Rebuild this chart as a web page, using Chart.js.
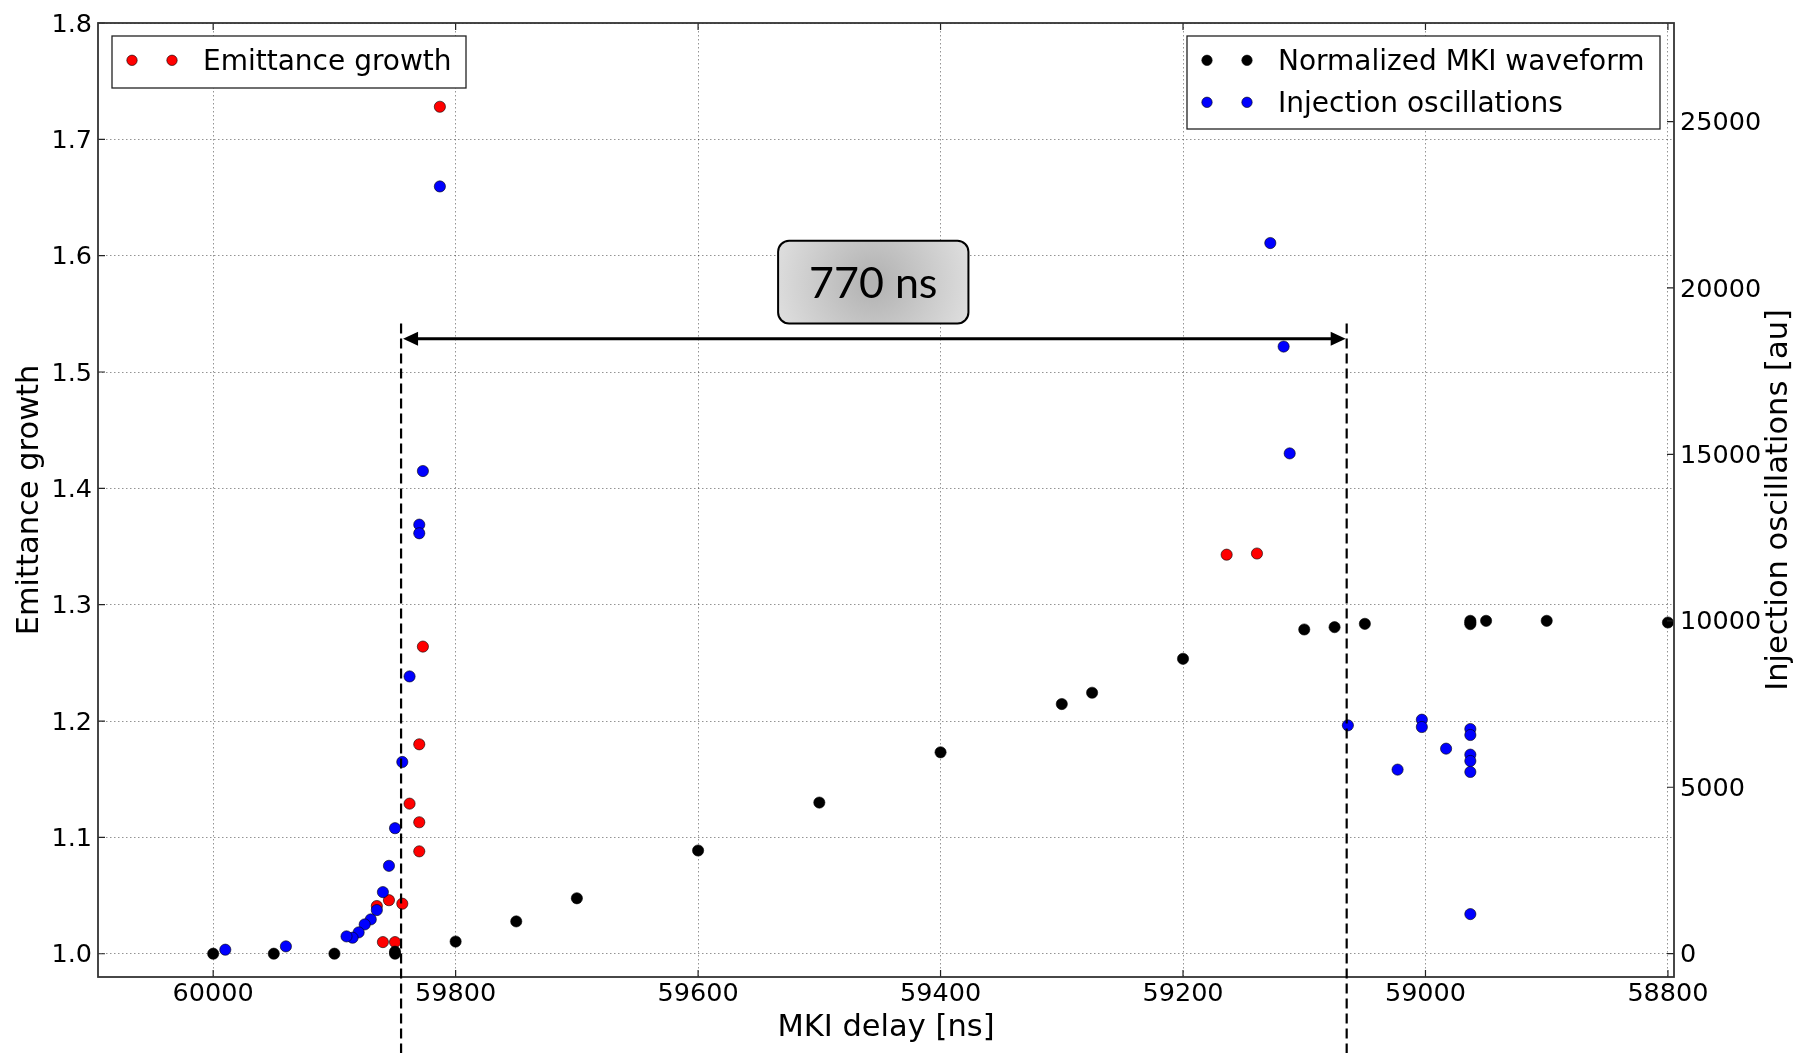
<!DOCTYPE html>
<html>
<head>
<meta charset="utf-8">
<title>MKI delay scan</title>
<script src="https://cdn.jsdelivr.net/npm/chart.js@4.4.1/dist/chart.umd.min.js"></script>
<style>
  html, body { margin: 0; padding: 0; background: #fff; }
  canvas { display: block; }
</style>
</head>
<body>
<canvas id="chart" width="1797" height="1053"></canvas>
<script>
// tick labels
const delayTicks = [60000, 59800, 59600, 59400, 59200, 59000, 58800];
const emittanceTicks = [1.0, 1.1, 1.2, 1.3, 1.4, 1.5, 1.6, 1.7, 1.8];
const oscillationTicks = [0, 5000, 10000, 15000, 20000, 25000];

// Emittance growth (left axis)
const emittanceDelay = [59813, 59827, 59830, 59838, 59830, 59830, 59844, 59855, 59865, 59860, 59850, 59164, 59139];
const emittanceValue = [1.728, 1.264, 1.180, 1.129, 1.113, 1.088, 1.043, 1.046, 1.041, 1.010, 1.010, 1.343, 1.344];

// Normalized MKI waveform (right axis)
const waveformDelay = [60000, 59950, 59900, 59850, 59850, 59800, 59750, 59700, 59600, 59500, 59400, 59300, 59275,
                       59200, 59100, 59075, 59050, 58963, 58963, 58963, 58950, 58900, 58800];
const waveformValue = [0, 0, 0, 0, 60, 365, 970, 1665, 3100, 4540, 6050, 7500, 7840,
                       8860, 9740, 9810, 9910, 9900, 9950, 10000, 10000, 10000, 9950];

// Injection oscillations (right axis)
const oscillationDelay = [59813, 59827, 59830, 59830, 59838, 59844, 59850, 59855, 59860, 59865, 59870, 59875, 59880,
                          59885, 59890, 59940, 59990, 59128, 59117, 59112, 59064, 59003, 59003, 59023, 58983,
                          58963, 58963, 58963, 58963, 58963, 58963];
const oscillationValue = [23050, 14500, 12890, 12630, 8330, 5760, 3770, 2640, 1850, 1310, 1030, 880, 640,
                          480, 520, 220, 120, 21350, 18240, 15030, 6860, 7030, 6810, 5530, 6160,
                          6750, 6570, 5980, 5790, 5460, 1190];

// 770 ns window between the dashed lines
const windowStart = 59845;
const windowEnd = 59065;
const windowLabel = '770 ns';

const toPoints = (xs, ys) => xs.map((x, i) => ({x: x, y: ys[i]}));

Chart.defaults.font.family = 'DejaVu Sans';
Chart.defaults.color = '#000';

const tickFont = {family: 'DejaVu Sans', size: 25.5};
const gridColor = 'rgba(0,0,0,0.42)';

const decorPlugin = {
    id: 'decor',
    afterDraw(chart) {
        const {ctx, chartArea: {left, right, top, bottom}, scales: {x, y, y2}} = chart;
        ctx.save();

        // tick marks, pointing inward
        ctx.strokeStyle = '#222';
        ctx.lineWidth = 1.2;
        ctx.beginPath();
        delayTicks.forEach(v => {
            const px = x.getPixelForValue(v);
            ctx.moveTo(px, bottom); ctx.lineTo(px, bottom - 7);
            ctx.moveTo(px, top); ctx.lineTo(px, top + 7);
        });
        emittanceTicks.forEach(v => {
            const py = y.getPixelForValue(v);
            ctx.moveTo(left, py); ctx.lineTo(left + 7, py);
        });
        oscillationTicks.forEach(v => {
            const py = y2.getPixelForValue(v);
            ctx.moveTo(right, py); ctx.lineTo(right - 7, py);
        });
        ctx.stroke();

        // frame
        ctx.strokeStyle = '#333';
        ctx.lineWidth = 1.8;
        ctx.strokeRect(left, top, right - left, bottom - top);

        // dashed window lines
        const xa = x.getPixelForValue(windowStart);
        const xb = x.getPixelForValue(windowEnd);
        const boxTop = y.getPixelForValue(1.6128);
        const boxBottom = y.getPixelForValue(1.5417);
        const arrowY = y.getPixelForValue(1.5287);
        ctx.strokeStyle = '#000';
        ctx.lineWidth = 2.2;
        ctx.setLineDash([10, 5]);
        ctx.beginPath();
        ctx.moveTo(xa, boxBottom); ctx.lineTo(xa, chart.height);
        ctx.moveTo(xb, boxBottom); ctx.lineTo(xb, chart.height);
        ctx.stroke();
        ctx.setLineDash([]);

        // double arrow
        const head = 15, half = 7;
        ctx.lineWidth = 3;
        ctx.beginPath();
        ctx.moveTo(xa + head, arrowY); ctx.lineTo(xb - head, arrowY);
        ctx.stroke();
        ctx.fillStyle = '#000';
        ctx.beginPath();
        ctx.moveTo(xa + 2, arrowY); ctx.lineTo(xa + 2 + head, arrowY - half); ctx.lineTo(xa + 2 + head, arrowY + half);
        ctx.closePath(); ctx.fill();
        ctx.beginPath();
        ctx.moveTo(xb - 1, arrowY); ctx.lineTo(xb - 1 - head, arrowY - half); ctx.lineTo(xb - 1 - head, arrowY + half);
        ctx.closePath(); ctx.fill();

        // label box
        const bx0 = x.getPixelForValue(59534);
        const bx1 = x.getPixelForValue(59377);
        const cx = (bx0 + bx1) / 2, cy = (boxTop + boxBottom) / 2;
        const grad = ctx.createRadialGradient(cx, cy, 5, cx, cy, (bx1 - bx0) / 2 + 10);
        grad.addColorStop(0, '#b3b3b3');
        grad.addColorStop(1, '#e0e0e0');
        ctx.beginPath();
        ctx.roundRect(bx0, boxTop, bx1 - bx0, boxBottom - boxTop, 11);
        ctx.fillStyle = grad;
        ctx.fill();
        ctx.lineWidth = 2;
        ctx.strokeStyle = '#000';
        ctx.stroke();
        ctx.fillStyle = '#000';
        ctx.font = '43px Lato';
        ctx.textAlign = 'center';
        ctx.textBaseline = 'alphabetic';
        ctx.fillText(windowLabel, cx, cy + 16);

        // legends
        const drawLegend = (bx, by, bw, bh, items) => {
            ctx.fillStyle = '#fff';
            ctx.fillRect(bx, by, bw, bh);
            ctx.strokeStyle = '#222';
            ctx.lineWidth = 1.3;
            ctx.strokeRect(bx, by, bw, bh);
            ctx.font = '28px DejaVu Sans';
            ctx.textAlign = 'left';
            ctx.textBaseline = 'middle';
            items.forEach((it, i) => {
                const ly = by + 24.3 + i * 42;
                [bx + 20, bx + 60].forEach(mx => {
                    ctx.beginPath();
                    ctx.arc(mx, ly, 5.2, 0, Math.PI * 2);
                    ctx.fillStyle = it.color;
                    ctx.fill();
                    ctx.lineWidth = 0.6;
                    ctx.strokeStyle = '#000';
                    ctx.stroke();
                });
                ctx.fillStyle = '#000';
                ctx.fillText(it.label, bx + 91, ly + 2.5);
            });
        };
        const ds = chart.data.datasets;
        drawLegend(112, 36, 354, 52, [{label: ds[0].label, color: ds[0].backgroundColor}]);
        drawLegend(1187, 36, 473, 93, [
            {label: ds[1].label, color: ds[1].backgroundColor},
            {label: ds[2].label, color: ds[2].backgroundColor}
        ]);

        // axis titles
        ctx.fillStyle = '#000';
        ctx.font = '30.5px DejaVu Sans';
        ctx.textAlign = 'center';
        ctx.textBaseline = 'middle';
        ctx.fillText('MKI delay [ns]', (left + right) / 2, 1028.5);
        ctx.translate(30, (top + bottom) / 2);
        ctx.rotate(-Math.PI / 2);
        ctx.fillText('Emittance growth', 0, 0);
        ctx.setTransform(1, 0, 0, 1, 0, 0);
        ctx.translate(1779, (top + bottom) / 2);
        ctx.rotate(-Math.PI / 2);
        ctx.fillText('Injection oscillations [au]', 0, 0);

        ctx.restore();
    }
};

const pointStyle = {pointRadius: 5.6, borderColor: '#000', borderWidth: 0.6, pointHoverRadius: 5.6};

const config = {
    type: 'scatter',
    data: {
        datasets: [
            Object.assign({label: 'Emittance growth', data: toPoints(emittanceDelay, emittanceValue),
                backgroundColor: '#ff0000', yAxisID: 'y', order: 3}, pointStyle),
            Object.assign({label: 'Normalized MKI waveform', data: toPoints(waveformDelay, waveformValue),
                backgroundColor: '#000000', yAxisID: 'y2', order: 2}, pointStyle),
            Object.assign({label: 'Injection oscillations', data: toPoints(oscillationDelay, oscillationValue),
                backgroundColor: '#0000ff', yAxisID: 'y2', order: 1}, pointStyle)
        ]
    },
    options: {
        responsive: false,
        animation: false,
        devicePixelRatio: 1,
        events: [],
        layout: {padding: {top: 23, left: 0, right: 0, bottom: 0}},
        plugins: {legend: {display: false}, tooltip: {enabled: false}},
        scales: {
            x: {
                type: 'linear',
                reverse: true,
                min: 58795,
                max: 60095,
                afterBuildTicks: s => { s.ticks = delayTicks.map(v => ({value: v})); },
                afterFit: s => { s.height = 76; },
                ticks: {font: tickFont, padding: 2, maxRotation: 0, autoSkip: false, callback: v => String(v)},
                grid: {color: gridColor, lineWidth: 1, drawTicks: false},
                border: {display: false, dash: [1.5, 2.5]}
            },
            y: {
                position: 'left',
                min: 0.98,
                max: 1.8,
                afterBuildTicks: s => { s.ticks = emittanceTicks.map(v => ({value: v})); },
                afterFit: s => { s.width = 98; },
                ticks: {font: tickFont, padding: 6, labelOffset: 2, autoSkip: false, callback: v => v.toFixed(1)},
                grid: {color: gridColor, lineWidth: 1, drawTicks: false},
                border: {display: false, dash: [1.5, 2.5]}
            },
            y2: {
                position: 'right',
                min: -700,
                max: 27960,
                afterBuildTicks: s => { s.ticks = oscillationTicks.map(v => ({value: v})); },
                afterFit: s => { s.width = 123; },
                ticks: {font: tickFont, padding: 6, labelOffset: 2, autoSkip: false, callback: v => String(v)},
                grid: {display: false, drawTicks: false},
                border: {display: false}
            }
        }
    },
    plugins: [decorPlugin]
};

new Chart(document.getElementById('chart'), config);
</script>
</body>
</html>
